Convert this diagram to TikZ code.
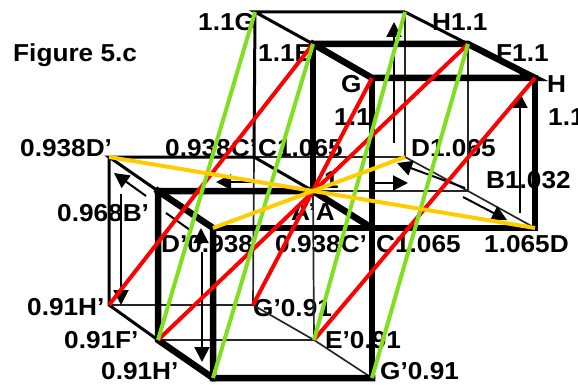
\documentclass[tikz,border=0pt]{standalone}
\usepackage{fontspec}
\setmainfont[FakeStretch=1.07]{Liberation Sans}
\usetikzlibrary{arrows.meta}
\definecolor{lred}{RGB}{255,0,0}
\definecolor{lgreen}{RGB}{128,224,32}
\definecolor{lyellow}{RGB}{255,204,0}
\tikzset{
  lab/.style={anchor=base west,inner sep=0pt,font=\fontsize{24.5}{26}\selectfont\bfseries,text=black},
  heavy/.style={line width=6.5pt,black,line cap=rect},
  medium/.style={line width=3pt,black},
  fine/.style={line width=1.7pt,black!85},
  redl/.style={line width=4pt,lred},
  greenl/.style={line width=4pt,lgreen},
  yell/.style={line width=4pt,lyellow},
  arw/.style={line width=2pt,black,-{Triangle[length=15pt,width=15pt]}}
}
\begin{document}
\begin{tikzpicture}[x=1pt,y=-1pt]
\useasboundingbox (0,0) rectangle (578,385);
\clip (0,0) rectangle (578,385);
% upper cube
\coordinate (G) at (255,12);
\coordinate (Hb) at (405,12);
\coordinate (E) at (313,44);
\coordinate (F) at (468,44);
\coordinate (Gf) at (372,78);
\coordinate (H) at (535,78);
\coordinate (Cb) at (254,157);
\coordinate (Db) at (405,157);
\coordinate (Cm) at (313,191);
\coordinate (Bm) at (468,191);
\coordinate (Af) at (372,228);
\coordinate (Df) at (535,228);
% lower cube
\coordinate (Dp) at (109,157);
\coordinate (Bp) at (158,191);
\coordinate (Ap) at (213,228);
\coordinate (Hp) at (109,305);
\coordinate (Gp) at (253,305);
\coordinate (Fp) at (158,340);
\coordinate (Ep) at (314,340);
\coordinate (Hq) at (213,378);
\coordinate (Gq) at (372,378);
% labels
\node[lab] (t0) at (13,62) {Figure 5.c};
\node[lab] (t1) at (198,31) {1.1G};
\node[lab] (t2) at (258,62) {1.1E};
\node[lab] (t3) at (432,31) {H1.1};
\node[lab] (t4) at (496,62) {F1.1};
\node[lab] (t5) at (341,93) {G};
\node[lab] (t6) at (547,93) {H};
\node[lab] (t7) at (334,126) {1.1};
\node[lab] (t8) at (548,126) {1.1};
\node[lab] (t9) at (20,157) {0.938D’};
\node[lab] (t10) at (165,157) {0.938C’};
\node[lab] (t11) at (258,157) {C1.065};
\node[lab] (t12) at (411,157) {D1.065};
\node[lab] (t13) at (486,188) {B1.032};
\node[lab] (t14) at (324,188) {1};
\node[lab] (t15) at (57,221) {0.968B’};
\node[lab] (t16) at (291,220) {A’A};
\node[lab] (t17) at (161,252) {D’0.938};
\node[lab] (t18) at (275,252) {0.938C’};
\node[lab] (t19) at (376,252) {C1.065};
\node[lab] (t20) at (484,252) {1.065D};
\node[lab] (t21) at (27,315) {0.91H’};
\node[lab] (t22) at (253,316) {G’0.91};
\node[lab] (t23) at (64,348) {0.91F’};
\node[lab] (t24) at (325,348) {E’0.91};
\node[lab] (t25) at (101,379) {0.91H’};
\node[lab] (t26) at (380,379) {G’0.91};
% fine edges
\draw[fine] (Db) -- (Bm) -- (Df);
\draw[fine] (Cb) -- (Db);
\draw[fine] (Cm) -- (Bm);
\draw[fine] (Hb) -- (Db);
\draw[fine] (F) -- (Bm);
\draw[fine] (Cb) -- (Gp);
\draw[fine] (Cm) -- (Ep);
\draw[fine] (Hp) -- (Gp);
\draw[fine] (Fp) -- (Ep);
\draw[fine] (Gp) -- (Ep) -- (Gq);
% medium edges
\draw[medium] (Hb) -- (G) -- (E);
\draw[medium] (Hb) -- (F);
\draw[medium] (G) -- (Cb);
\draw[medium] (Cb) -- (Dp) -- (Bp);
\draw[medium] (Cb) -- (Cm);
\draw[medium] (Dp) -- (Hp) -- (Fp);
% heavy edges
\draw[heavy] (E) -- (F) -- (H) -- (Gf) -- (E);
\draw[heavy] (E) -- (Cm);
\draw[heavy] (Gf) -- (Gq);
\draw[heavy] (H) -- (Df);
\draw[heavy] (Bp) -- (Cm) -- (Af);
\draw[heavy] (Ap) -- (Df);
\draw[heavy] (Bp) -- (Ap) -- (Hq);
\draw[heavy] (Bp) -- (Fp) -- (Hq) -- (Gq);
% arrows
\coordinate (a1s) at (394,143); \coordinate (a1e) at (394,22);
\coordinate (a2s) at (520,213); \coordinate (a2e) at (520,93);
\coordinate (a3s) at (121,194); \coordinate (a3e) at (121,305);
\coordinate (a4s) at (202,252); \coordinate (a4e) at (202,362);
\coordinate (a5s) at (201,243); \coordinate (a5e) at (201,228);
\coordinate (a6s) at (146,196); \coordinate (a6e) at (114,173);
\coordinate (a7s) at (254,182); \coordinate (a7e) at (216,182);
\coordinate (a8s) at (372,183); \coordinate (a8e) at (408,183);
\coordinate (a9s) at (465,188); \coordinate (a9e) at (397,163);
\coordinate (a10s) at (463,197); \coordinate (a10e) at (507,220);
\coordinate (l1s) at (166,213); \coordinate (l1e) at (190,230);
\draw[arw] (a1s) -- (a1e);
\draw[arw] (a2s) -- (a2e);
\draw[arw] (a3s) -- (a3e);
\draw[arw] (a4s) -- (a4e);
\draw[arw] (a5s) -- (a5e);
\draw[arw] (a6s) -- (a6e);
\draw[arw] (a7s) -- (a7e);
\draw[arw] (a8s) -- (a8e);
\draw[arw] (a9s) -- (a9e);
\draw[arw] (a10s) -- (a10e);
\draw[line width=2pt] (l1s) -- (l1e);
% red
\draw[redl] (E) -- (Hp);
\draw[redl] (Gf) -- (Gp);
\draw[redl] (F) -- (Fp);
\draw[redl] (H) -- (Ep);
% green
\draw[greenl] (G) -- (Fp);
\draw[greenl] (E) -- (Hq);
\draw[greenl] (Hb) -- (Ep);
\draw[greenl] (F) -- (Gq);
% yellow
\draw[yell] (Dp) -- (Df);
\draw[yell] (Db) -- (Ap);
\end{tikzpicture}
\end{document}
